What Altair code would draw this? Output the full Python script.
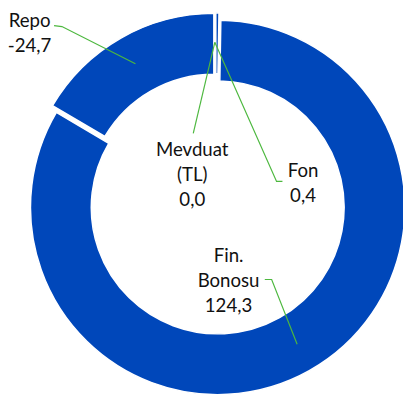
import math
import altair as alt
import pandas as pd

# ---- data ----
categories = ["Mevduat (TL)", "Fon", "Fin. Bonosu", "Repo"]
values = [0.0, 0.4, 124.3, -24.7]
label_names = ["Mevduat\n(TL)", "Fon", "Fin.\nBonosu", "Repo"]

# ---- style / layout ----
BLUE = "#0047BA"
GREEN = "#4DB83F"
TEXT = "#111111"
W, H = 403, 392
M = 8  # page margin
CX, CY = 220 - M, 204 - M  # donut centre (plot coords)
R_OUT, R_IN = 191, 129
EXPLODE = 4

# first-line centres of the label blocks (page coords)
label_pos = {
    "Mevduat (TL)": (196, 149),
    "Fon": (309, 170),
    "Fin. Bonosu": (233, 257),
    "Repo": (30, 17),
}
# leader line polylines (page coords)
leaders = {
    "Repo": [(55, 22), (63, 23), (138, 61)],
    "Mevduat (TL)": [(197, 132), (219, 39)],
    "Fon": [(219, 39), (282, 181), (288, 181)],
    "Fin. Bonosu": [(270, 281), (277, 281), (303, 347)],
}

absvals = [abs(v) for v in values]
total = sum(absvals)
df = pd.DataFrame({
    "cat": categories,
    "value": values,
    "absval": absvals,
    "idx": list(range(len(categories))),
})

layers = []
cum = 0.0
for name, a in zip(categories, absvals):
    start = cum
    cum += a
    if a == 0:
        continue
    mid = (start + cum) / 2 / total * 2 * math.pi
    dx = EXPLODE * math.sin(mid)
    dy = -EXPLODE * math.cos(mid)
    layers.append(
        alt.Chart(df).mark_arc(
            radius=R_OUT, radius2=R_IN, stroke="white", strokeWidth=1.5, color=BLUE
        ).encode(
            theta=alt.Theta("absval:Q", stack=True),
            order=alt.Order("idx:Q"),
            opacity=alt.condition(alt.datum.cat == name, alt.value(1), alt.value(0)),
            x=alt.value(CX + dx),
            y=alt.value(CY + dy),
        )
    )

rows = []
for seg, pts in leaders.items():
    for i, (px, py) in enumerate(pts):
        rows.append({"seg": seg, "px": px - M, "py": py - M, "ord": i})
lines_df = pd.DataFrame(rows)
lines = alt.Chart(lines_df).mark_line(color=GREEN, strokeWidth=1.2).encode(
    x=alt.X("px:Q", scale=None, axis=None),
    y=alt.Y("py:Q", scale=None, axis=None),
    detail="seg:N",
    order="ord:Q",
)

txt_rows = []
for name, lab, v in zip(categories, label_names, values):
    tx, ty = label_pos[name]
    txt_rows.append({
        "label": lab + "\n" + f"{v:.1f}".replace(".", ","),
        "tx": tx - M,
        "ty": ty - M,
    })
txt_df = pd.DataFrame(txt_rows)
texts = alt.Chart(txt_df).mark_text(
    font="Lato", fontSize=19, lineBreak="\n", lineHeight=25.7,
    align="center", baseline="middle", color=TEXT,
).encode(
    x=alt.X("tx:Q", scale=None, axis=None),
    y=alt.Y("ty:Q", scale=None, axis=None),
    text="label:N",
)

chart = alt.layer(*layers, lines, texts).properties(
    width=W, height=H, padding=0, autosize="none"
).configure_view(stroke=None)

chart.save("out.html", embed_options={"renderer": "svg", "actions": False})
